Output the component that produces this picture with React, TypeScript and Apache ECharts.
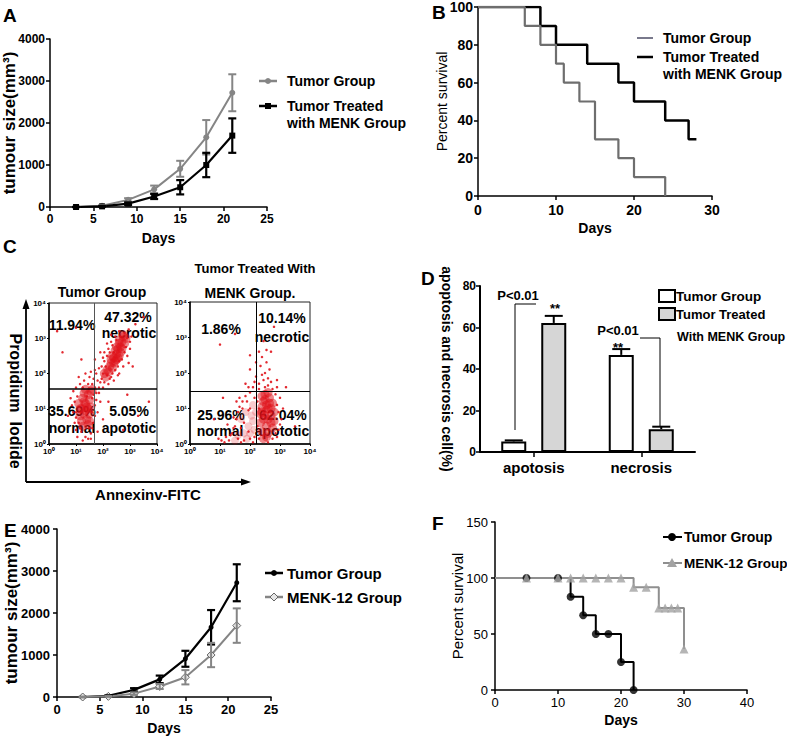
import React, { useEffect, useRef } from 'react';
import * as echarts from 'echarts';

const FONT = '"Liberation Sans", Arial, Helvetica, sans-serif';

// ---------- Panel A / E : tumour growth ----------
const growthDays = [3, 6, 9, 12, 15, 18, 21];
const tumorMean = [0, 30, 170, 420, 910, 1660, 2720];
const tumorSd = [0, 10, 40, 90, 190, 410, 440];
const treatedMean = [0, 15, 80, 250, 470, 1000, 1700];
const treatedSd = [0, 8, 30, 60, 170, 290, 410];

// ---------- Panel B : survival ----------
const survBTumor = [[0, 100], [6, 90], [8, 80], [10, 70], [11, 60], [13, 50], [15, 30], [18, 20], [20, 10], [24, 0]];
const survBTreated = [[0, 100], [8, 90], [10, 80], [14, 70], [18, 60], [20, 50], [24, 40], [27, 30], [28, 30]];

// ---------- Panel C : flow cytometry (log10 decades) ----------
const logTicks = ['10\u2070', '10\u00b9', '10\u00b2', '10\u00b3', '10\u2074'];
const gateLeft = [1.67, 1.56];
const gateRight = [2.2, 1.49];
const leftCore = [
  [2.30, 2.30], [2.40, 2.45], [2.50, 2.55], [2.55, 2.70], [2.65, 2.75], [2.70, 2.90], [2.45, 2.65], [2.60, 2.50],
  [2.35, 2.15], [2.20, 2.05], [2.75, 3.05], [2.50, 2.40], [2.60, 2.85], [2.40, 2.30], [2.10, 1.90],
  [2.25, 2.20], [2.45, 2.35], [2.55, 2.45], [2.65, 2.60], [2.50, 2.75], [2.70, 2.70], [2.80, 2.85], [2.60, 2.95],
  [2.35, 2.50], [2.15, 2.10], [2.05, 2.00], [2.30, 2.40], [2.75, 3.10], [2.85, 3.00],
  [1.20, 1.00], [1.30, 0.85], [1.35, 1.15], [1.25, 1.30], [1.45, 1.00], [1.40, 0.70], [1.15, 0.80], [1.50, 1.25],
  [1.30, 1.45], [1.55, 1.50], [1.45, 0.55], [1.10, 1.15], [1.20, 0.65], [1.30, 1.20], [1.40, 1.05], [1.50, 0.85],
  [1.35, 0.95], [1.25, 0.50], [1.55, 1.05], [1.45, 1.40], [1.60, 1.55], [1.35, 1.55], [1.15, 1.00], [1.50, 0.65]
];
const leftDots = [
  [1.0, 0.4], [0.9, 0.9], [0.8, 1.3], [1.0, 1.6], [1.1, 1.9], [1.3, 1.8], [1.5, 1.9], [1.6, 1.7], [1.7, 1.6], [1.8, 1.8],
  [1.9, 1.75], [1.75, 2.0], [1.95, 2.2], [2.0, 2.0], [2.05, 2.35], [2.15, 2.5], [2.25, 2.6], [2.1, 2.2], [1.85, 1.45],
  [2.0, 1.6], [2.2, 1.7], [2.3, 1.9], [2.45, 2.1], [2.55, 2.2], [2.7, 2.4], [2.8, 2.6], [2.85, 2.75], [2.9, 3.0],
  [2.8, 3.15], [2.65, 3.05], [2.5, 2.95], [2.35, 2.8], [2.2, 2.7], [2.95, 3.25], [3.0, 2.9], [2.3, 3.1], [1.6, 1.3],
  [1.7, 1.1], [1.8, 0.9], [1.65, 0.6], [1.9, 1.2], [2.0, 0.7], [1.55, 0.3], [1.35, 0.2], [1.2, 0.35], [0.95, 0.6],
  [0.85, 1.1], [1.05, 1.35], [1.45, 1.7], [1.25, 1.6], [0.7, 0.8], [1.1, 0.6], [1.6, 0.9], [1.4, 1.35], [1.5, 0.45],
  [2.4, 1.8], [2.6, 2.0], [3.1, 2.2], [2.9, 1.4], [2.2, 1.2], [3.3, 0.8], [0.5, 2.6], [1.2, 2.4], [3.5, 3.6], [0.3, 3.2],
  [3.7, 1.2], [2.75, 0.4], [1.0, 3.3], [3.2, 3.4], [1.7, 2.4], [1.9, 2.6], [2.15, 2.85],
  [1.75, 1.45], [1.85, 1.6], [1.95, 1.85], [2.05, 1.75], [2.15, 1.95], [2.25, 1.85], [2.35, 2.0], [1.65, 1.85],
  [1.55, 2.05], [1.85, 2.15], [2.0, 2.45], [2.3, 2.9], [2.45, 3.05], [2.6, 3.2], [2.9, 2.5], [3.0, 2.7], [3.05, 3.05],
  [2.95, 2.3], [2.75, 2.2], [2.55, 1.95], [1.0, 0.9], [0.95, 1.2], [1.05, 0.2], [1.25, 0.1], [1.45, 0.15], [1.6, 0.45],
  [1.7, 0.8], [1.75, 1.25], [1.65, 1.4], [0.9, 1.5], [1.15, 1.7], [1.35, 2.0], [1.55, 0.15], [1.8, 0.35], [1.0, 0.75],
  [1.15, 0.45], [1.7, 2.1], [2.05, 2.6], [2.4, 2.6], [2.6, 2.35]
];
const rightCore = [
  [2.50, 0.80], [2.60, 1.00], [2.45, 1.20], [2.70, 0.60], [2.55, 0.50], [2.40, 0.90], [2.65, 1.30], [2.80, 0.90],
  [2.35, 0.60], [2.50, 1.40], [2.60, 0.30], [2.75, 1.15], [2.40, 0.35], [2.55, 1.10], [2.70, 0.80],
  [2.45, 0.70], [2.55, 0.95], [2.65, 1.15], [2.50, 1.25], [2.60, 0.70], [2.75, 0.45], [2.40, 1.05], [2.70, 1.00],
  [2.55, 0.20], [2.45, 0.15], [2.80, 0.65], [2.35, 0.85], [2.60, 1.45], [2.40, 1.35]
];
const rightMid = [
  [2.05, 0.80], [1.95, 0.50], [2.10, 1.10], [1.80, 0.30], [2.15, 0.40], [1.70, 0.70], [1.85, 0.90], [2.00, 0.30],
  [2.10, 0.65], [1.60, 0.25], [1.90, 0.15], [2.20, 0.90], [1.50, 0.10]
];
const rightDots = [
  [2.3, 1.7], [2.45, 1.8], [2.6, 1.65], [2.75, 1.55], [2.5, 2.0], [2.35, 2.2], [2.65, 2.1], [2.2, 1.9], [2.1, 1.6],
  [2.0, 1.45], [1.9, 1.2], [1.75, 1.0], [1.6, 0.9], [1.5, 0.5], [1.4, 0.3], [1.3, 0.1], [1.6, 0.15], [1.8, 0.1],
  [2.0, 0.15], [1.2, 0.2], [1.05, 0.1], [1.55, 1.2], [1.85, 1.7], [2.0, 2.1], [2.4, 2.45], [2.55, 2.3], [2.9, 1.8],
  [3.0, 1.3], [3.05, 0.7], [2.95, 0.4], [3.1, 1.0], [2.85, 1.4], [2.3, 1.0], [2.25, 0.5], [2.9, 0.2], [2.3, 0.15],
  [1.95, 0.95], [1.7, 0.45], [2.15, 1.3], [1.45, 0.75], [3.2, 1.6], [2.7, 2.6], [3.3, 2.9], [2.8, 3.3], [1.0, 2.8],
  [1.5, 3.1], [3.5, 0.5], [0.8, 0.7], [1.1, 1.3], [2.45, 2.9], [2.0, 2.5], [1.25, 0.55], [1.65, 1.3], [2.6, 0.05],
  [2.75, 0.15], [2.3, 1.55], [2.5, 1.6], [2.7, 1.75], [2.4, 1.95], [2.6, 1.85], [2.2, 2.3], [2.3, 2.6], [2.55, 2.65],
  [2.15, 1.75], [1.95, 1.6], [1.85, 1.35], [1.75, 1.2], [1.65, 1.05], [1.55, 0.7], [1.45, 0.45], [1.35, 0.25],
  [1.15, 0.05], [0.95, 0.15], [1.7, 0.05], [2.1, 0.05], [2.9, 1.1], [2.95, 0.9], [3.0, 0.55], [2.85, 0.3], [2.9, 1.6],
  [2.0, 1.0], [1.8, 0.6], [2.15, 0.2], [2.25, 1.2], [1.95, 0.35]
];

// ---------- Panel D : apoptosis / necrosis ----------
const dCategories = ['apotosis', 'necrosis'];
const dTumor = [5.1, 46.8];
const dTumorErr = [0.5, 2.8];
const dTreated = [62.2, 11.0];
const dTreatedErr = [3.4, 1.2];

// ---------- Panel F : survival ----------
const survFTumorLine = [[0, 100], [12, 83.3], [14, 66.7], [16, 50], [20, 25], [22, 0]];
const survFTumorMarks = [[5, 100], [10, 100], [12, 83.3], [14, 66.7], [16, 50], [18, 50], [20, 25], [22, 0]];
const survFMenkLine = [[0, 100], [22, 91.7], [26, 73.3], [30, 36.7]];
const survFMenkMarks = [[5, 100], [10, 100], [12, 100], [14, 100], [16, 100], [18, 100], [20, 100], [22, 91.7],
  [24, 91.7], [26, 73.3], [27, 73.3], [28, 73.3], [29, 73.3], [30, 36.7]];

const GRAY = '#858585';
const RED = '#e0121a';

function valAxis(gridIndex: number, min: number, max: number, interval: number, extra: any = {}) {
  const { label = {}, ...rest } = extra;
  return {
    type: 'value', gridIndex, min, max, interval,
    nameMoveOverlap: false,
    axisLine: { show: true, onZero: false, lineStyle: { color: '#000', width: 1.5 } },
    axisTick: { show: true, length: 4, lineStyle: { color: '#000', width: 1.5 } },
    splitLine: { show: false },
    axisLabel: {
      color: '#000', fontFamily: FONT, fontWeight: 'bold', fontSize: 12, margin: 5,
      formatter: (v: number) => String(v), ...label,
    },
    nameTextStyle: { color: '#000', fontFamily: FONT, fontWeight: 'bold', fontSize: 14 },
    ...rest,
  };
}

function errorSeries(xi: number, days: number[], mean: number[], sd: number[], color: string, width: number) {
  return {
    type: 'custom', xAxisIndex: xi, yAxisIndex: xi, silent: true, z: 4,
    data: days.map((d, i) => [d, mean[i] - sd[i], mean[i] + sd[i]]),
    encode: { x: 0, y: [1, 2] },
    renderItem: (_p: any, api: any) => {
      const x = api.value(0);
      const lo = api.coord([x, api.value(1)]);
      const hi = api.coord([x, api.value(2)]);
      const w = 4;
      const st = { stroke: color, lineWidth: width };
      return {
        type: 'group', children: [
          { type: 'line', shape: { x1: lo[0], y1: lo[1], x2: hi[0], y2: hi[1] }, style: st },
          { type: 'line', shape: { x1: hi[0] - w, y1: hi[1], x2: hi[0] + w, y2: hi[1] }, style: st },
          { type: 'line', shape: { x1: lo[0] - w, y1: lo[1], x2: lo[0] + w, y2: lo[1] }, style: st },
        ],
      };
    },
  };
}

function barErrorSeries(vals: number[], errs: number[], offset: number) {
  return {
    type: 'custom', xAxisIndex: 4, yAxisIndex: 4, silent: true, z: 1,
    data: vals.map((v, i) => [i, v, v + errs[i]]),
    encode: { x: 0, y: [1, 2] },
    renderItem: (_p: any, api: any) => {
      const b = api.coord([api.value(0), api.value(1)]);
      const t = api.coord([api.value(0), api.value(2)]);
      const cx = b[0] + offset;
      const st = { stroke: '#000', lineWidth: 2 };
      return {
        type: 'group', children: [
          { type: 'line', shape: { x1: cx, y1: b[1], x2: cx, y2: t[1] }, style: st },
          { type: 'line', shape: { x1: cx - 9, y1: t[1], x2: cx + 9, y2: t[1] }, style: st },
        ],
      };
    },
  };
}

function txt(x: number, y: number, text: string, size: number, extra: any = {}) {
  const { weight = 'bold', align = 'left', rotation = 0, fill = '#000' } = extra;
  return {
    type: 'text', x, y, rotation,
    style: { text, fill, font: `${weight} ${size}px ${FONT}`, align, verticalAlign: 'middle' },
  };
}
function seg(x1: number, y1: number, x2: number, y2: number, stroke: string, lineWidth: number) {
  return { type: 'line', shape: { x1, y1, x2, y2 }, style: { stroke, lineWidth } };
}

export default function App() {
  const ref = useRef<HTMLDivElement>(null);
  useEffect(() => {
    if (!ref.current) return;
    const chart = echarts.init(ref.current, null, { renderer: 'svg' });
    const logLabel = { fontSize: 8, margin: 3, formatter: (v: number) => logTicks[Math.round(v)] };
    const logTick = { show: true, length: 2, lineStyle: { color: '#000' } };
    const bigName = { color: '#000', fontFamily: FONT, fontWeight: 'bold', fontSize: 17 };
    const option: any = {
      animation: false,
      backgroundColor: '#fff',
      textStyle: { fontFamily: FONT },
      grid: [
        { left: 50, top: 39, width: 217, height: 168 },
        { left: 478, top: 7, width: 234, height: 189 },
        { left: 49, top: 303, width: 108, height: 141, show: true, borderColor: '#222', borderWidth: 1 },
        { left: 190, top: 302, width: 120, height: 142, show: true, borderColor: '#222', borderWidth: 1 },
        { left: 480, top: 286, width: 215, height: 166 },
        { left: 57, top: 529, width: 214, height: 168 },
        { left: 495, top: 522, width: 252, height: 168 },
      ],
      xAxis: [
        valAxis(0, 0, 25, 5, { name: 'Days', nameLocation: 'middle', nameGap: 24, label: { margin: 6 } }),
        valAxis(1, 0, 30, 10, { name: 'Days', nameLocation: 'middle', nameGap: 25, label: { fontSize: 14, margin: 7 } }),
        valAxis(2, 0, 4, 1, { label: logLabel, axisTick: logTick }),
        valAxis(3, 0, 4, 1, { label: logLabel, axisTick: logTick }),
        {
          type: 'category', gridIndex: 4, data: dCategories,
          axisLine: { show: true, lineStyle: { color: '#000', width: 2 } },
          axisTick: { show: true, alignWithLabel: true, length: 5, lineStyle: { color: '#000', width: 1.5 } },
          axisLabel: { color: '#000', fontFamily: FONT, fontWeight: 'bold', fontSize: 15, margin: 8 },
        },
        valAxis(5, 0, 25, 5, { name: 'Days', nameLocation: 'middle', nameGap: 24, label: { fontSize: 13, margin: 6 } }),
        valAxis(6, 0, 40, 10, { name: 'Days', nameLocation: 'middle', nameGap: 23, label: { fontSize: 13, fontWeight: 'normal', margin: 6 } }),
      ],
      yAxis: [
        valAxis(0, 0, 4000, 1000, { name: 'tumour size(mm\u00b3)', nameLocation: 'middle', nameGap: 32, nameTextStyle: bigName }),
        valAxis(1, 0, 100, 20, {
          name: 'Percent survival', nameLocation: 'middle', nameGap: 29, label: { fontSize: 14 },
          nameTextStyle: { color: '#000', fontFamily: FONT, fontWeight: 'normal', fontSize: 14 },
        }),
        valAxis(2, 0, 4, 1, { label: logLabel, axisTick: logTick }),
        valAxis(3, 0, 4, 1, { label: logLabel, axisTick: logTick }),
        valAxis(4, 0, 80, 20, {
          name: 'apoptosis and necrosis cell(%)', nameLocation: 'middle', nameGap: 26, nameRotate: -90,
          axisLine: { show: true, onZero: false, lineStyle: { color: '#000', width: 2 } }, label: { margin: 4 },
        }),
        valAxis(5, 0, 4000, 1000, {
          name: 'tumour size(mm\u00b3)', nameLocation: 'middle', nameGap: 37, nameTextStyle: bigName,
          label: { fontSize: 13, margin: 7 },
        }),
        valAxis(6, 0, 150, 50, {
          name: 'Percent survival', nameLocation: 'middle', nameGap: 30, label: { fontSize: 13, fontWeight: 'normal', margin: 7 },
          nameTextStyle: { color: '#000', fontFamily: FONT, fontWeight: 'normal', fontSize: 15 },
        }),
      ],
      series: [
        // A
        {
          name: 'Tumor Group', type: 'line', xAxisIndex: 0, yAxisIndex: 0, z: 3,
          data: growthDays.map((d, i) => [d, tumorMean[i]]),
          symbol: 'circle', symbolSize: 6, lineStyle: { color: GRAY, width: 2 }, itemStyle: { color: GRAY },
        },
        {
          name: 'Tumor Treated with MENK Group', type: 'line', xAxisIndex: 0, yAxisIndex: 0, z: 3,
          data: growthDays.map((d, i) => [d, treatedMean[i]]),
          symbol: 'rect', symbolSize: 6, lineStyle: { color: '#000', width: 2.2 }, itemStyle: { color: '#000' },
        },
        errorSeries(0, growthDays, tumorMean, tumorSd, GRAY, 2),
        errorSeries(0, growthDays, treatedMean, treatedSd, '#000', 2.2),
        // B
        {
          name: 'Tumor Group', type: 'line', step: 'end', xAxisIndex: 1, yAxisIndex: 1, showSymbol: false, z: 3,
          data: survBTumor, lineStyle: { color: '#6e6e6e', width: 2.2 },
        },
        {
          name: 'Tumor Treated with MENK Group', type: 'line', step: 'end', xAxisIndex: 1, yAxisIndex: 1, showSymbol: false, z: 2,
          data: survBTreated, lineStyle: { color: '#000', width: 2.5 },
        },
        // C left
        {
          type: 'scatter', xAxisIndex: 2, yAxisIndex: 2, data: leftCore, symbolSize: 9, silent: true,
          itemStyle: { color: RED, opacity: 0.5 },
        },
        {
          type: 'scatter', xAxisIndex: 2, yAxisIndex: 2, data: leftDots, symbolSize: 2.5, silent: true,
          itemStyle: { color: RED, opacity: 0.9 },
          markLine: {
            silent: true, symbol: 'none', label: { show: false },
            lineStyle: { color: '#000', width: 1.5, type: 'solid' },
            data: [{ xAxis: gateLeft[0], lineStyle: { color: '#555', width: 1 } }, { yAxis: gateLeft[1] }],
          },
        },
        // C right
        {
          type: 'scatter', xAxisIndex: 3, yAxisIndex: 3, data: rightCore, symbolSize: 9, silent: true,
          itemStyle: { color: RED, opacity: 0.5 },
        },
        {
          type: 'scatter', xAxisIndex: 3, yAxisIndex: 3, data: rightMid, symbolSize: 8, silent: true,
          itemStyle: { color: RED, opacity: 0.22 },
        },
        {
          type: 'scatter', xAxisIndex: 3, yAxisIndex: 3, data: rightDots, symbolSize: 2.5, silent: true,
          itemStyle: { color: RED, opacity: 0.9 },
          markLine: {
            silent: true, symbol: 'none', label: { show: false },
            lineStyle: { color: '#000', width: 1, type: 'solid' },
            data: [{ xAxis: gateRight[0] }, { yAxis: gateRight[1] }],
          },
        },
        // D
        {
          name: 'Tumor Group', type: 'bar', xAxisIndex: 4, yAxisIndex: 4, data: dTumor, barWidth: 25, barGap: '60%', z: 2,
          itemStyle: { color: '#fff', borderColor: '#000', borderWidth: 2 },
        },
        {
          name: 'Tumor Treated With MENK Group', type: 'bar', xAxisIndex: 4, yAxisIndex: 4, data: dTreated, barWidth: 25, z: 2,
          itemStyle: { color: '#d6d6d6', borderColor: '#000', borderWidth: 2 },
        },
        barErrorSeries(dTumor, dTumorErr, -20),
        barErrorSeries(dTreated, dTreatedErr, 20),
        // E
        {
          name: 'Tumor Group', type: 'line', xAxisIndex: 5, yAxisIndex: 5, z: 3,
          data: growthDays.map((d, i) => [d, tumorMean[i]]),
          symbol: 'circle', symbolSize: 5, lineStyle: { color: '#000', width: 2.2 }, itemStyle: { color: '#000' },
        },
        {
          name: 'MENK-12 Group', type: 'line', xAxisIndex: 5, yAxisIndex: 5, z: 3,
          data: growthDays.map((d, i) => [d, treatedMean[i]]),
          symbol: 'diamond', symbolSize: 8, lineStyle: { color: GRAY, width: 2 },
          itemStyle: { color: '#e6e6e6', borderColor: '#666', borderWidth: 1 },
        },
        errorSeries(5, growthDays, tumorMean, tumorSd, '#000', 2.2),
        errorSeries(5, growthDays, treatedMean, treatedSd, GRAY, 2),
        // F
        {
          name: 'Tumor Group', type: 'line', step: 'end', xAxisIndex: 6, yAxisIndex: 6, showSymbol: false, z: 2,
          data: survFTumorLine, lineStyle: { color: '#000', width: 2 },
        },
        {
          name: 'MENK-12 Group', type: 'line', step: 'end', xAxisIndex: 6, yAxisIndex: 6, showSymbol: false, z: 3,
          data: survFMenkLine, lineStyle: { color: '#8f8f8f', width: 2 },
        },
        {
          type: 'scatter', xAxisIndex: 6, yAxisIndex: 6, data: survFTumorMarks, symbol: 'circle', symbolSize: 8, z: 4,
          itemStyle: { color: '#000' },
        },
        {
          type: 'scatter', xAxisIndex: 6, yAxisIndex: 6, data: survFMenkMarks, symbol: 'triangle', symbolSize: 9, z: 5,
          itemStyle: { color: '#a3a3a3' },
        },
      ],
      graphic: [
        // panel letters
        txt(3, 15, 'A', 19), txt(432, 12, 'B', 19), txt(3, 246, 'C', 19),
        txt(421, 278, 'D', 19), txt(4, 530, 'E', 19), txt(432, 523, 'F', 19),
        // A legend
        seg(259, 81, 277, 81, GRAY, 2.5),
        { type: 'circle', shape: { cx: 268, cy: 81, r: 3 }, style: { fill: GRAY } },
        txt(287, 81, 'Tumor Group', 14),
        seg(259, 106, 277, 106, '#000', 2.5),
        { type: 'rect', shape: { x: 265, y: 103, width: 6, height: 6 }, style: { fill: '#000' } },
        txt(287, 106, 'Tumor Treated', 14),
        txt(287, 123, 'with MENK Group', 14),
        // B legend
        seg(637, 38, 653, 38, '#4d4d66', 1.5),
        txt(663, 38, 'Tumor Group', 14),
        seg(637, 57, 653, 57, '#000', 2.5),
        txt(663, 57, 'Tumor Treated', 14),
        txt(663, 74, 'with MENK Group', 14),
        // C titles & labels
        txt(102, 292, 'Tumor Group', 14, { align: 'center' }),
        txt(255, 268, 'Tumor Treated With', 13, { align: 'center' }),
        txt(250, 293, 'MENK Group.', 14, { align: 'center' }),
        txt(72, 325, '11.94%', 14, { align: 'center' }),
        txt(128, 317, '47.32%', 14, { align: 'center' }),
        txt(129, 333, 'necrotic', 14, { align: 'center' }),
        txt(72, 411, '35.69%', 14, { align: 'center' }),
        txt(72, 428, 'normal', 14, { align: 'center' }),
        txt(129, 411, '5.05%', 14, { align: 'center' }),
        txt(129, 428, 'apototic', 14, { align: 'center' }),
        txt(221, 329, '1.86%', 14, { align: 'center' }),
        txt(282, 318, '10.14%', 14, { align: 'center' }),
        txt(282, 337, 'necrotic', 14, { align: 'center' }),
        txt(221, 415, '25.96%', 14, { align: 'center' }),
        txt(220, 431, 'normal', 14, { align: 'center' }),
        txt(283, 415, '62.04%', 14, { align: 'center' }),
        txt(282, 431, 'apototic', 14, { align: 'center' }),
        seg(26, 482, 26, 307, '#000', 1.8),
        { type: 'polygon', shape: { points: [[22.5, 309], [29.5, 309], [26, 299]] }, style: { fill: '#000' } },
        seg(26, 482, 243, 482, '#000', 1.8),
        { type: 'polygon', shape: { points: [[241, 478.5], [241, 485.5], [251, 482]] }, style: { fill: '#000' } },
        txt(15, 401, 'Propidium  Iodide', 16, { align: 'center', rotation: -Math.PI / 2 }),
        txt(148, 494, 'Annexinv-FITC', 15, { align: 'center' }),
        // D annotations
        { type: 'polyline', shape: { points: [[515, 430], [515, 304], [536, 304]] }, style: { stroke: '#000', lineWidth: 1, fill: null } },
        txt(518, 295, 'P<0.01', 13, { align: 'center' }),
        txt(555, 308, '**', 13, { align: 'center' }),
        { type: 'polyline', shape: { points: [[640, 338], [660, 338], [660, 427]] }, style: { stroke: '#000', lineWidth: 1, fill: null } },
        txt(618, 330, 'P<0.01', 13, { align: 'center' }),
        txt(618, 347, '**', 13, { align: 'center' }),
        { type: 'rect', shape: { x: 659, y: 290, width: 16, height: 12 }, style: { fill: '#fff', stroke: '#000', lineWidth: 2 } },
        txt(676, 296, 'Tumor Group', 13.5),
        { type: 'rect', shape: { x: 659, y: 308, width: 16, height: 12 }, style: { fill: '#d6d6d6', stroke: '#000', lineWidth: 2 } },
        txt(676, 314, 'Tumor Treated', 13),
        txt(677, 337, 'With MENK Group', 12.5),
        // E legend
        seg(265, 573, 283, 573, '#000', 2.5),
        { type: 'circle', shape: { cx: 274, cy: 573, r: 3 }, style: { fill: '#000' } },
        txt(287, 573, 'Tumor Group', 15),
        seg(265, 597, 283, 597, GRAY, 2.5),
        { type: 'polygon', shape: { points: [[274, 593], [278, 597], [274, 601], [270, 597]] }, style: { fill: '#e6e6e6', stroke: '#666', lineWidth: 1 } },
        txt(287, 597, 'MENK-12 Group', 15),
        // F legend
        seg(663, 537, 682, 537, '#000', 2),
        { type: 'circle', shape: { cx: 672, cy: 537, r: 4 }, style: { fill: '#000' } },
        txt(684, 537, 'Tumor Group', 14),
        seg(663, 563, 682, 563, '#8f8f8f', 2),
        { type: 'polygon', shape: { points: [[672, 558], [677, 567], [667, 567]] }, style: { fill: '#a3a3a3' } },
        txt(684, 563, 'MENK-12 Group', 13.5),
      ],
    };
    chart.setOption(option);
    return () => chart.dispose();
  }, []);
  return (
    <div
      ref={ref}
      style={{ position: 'absolute', left: 0, top: 0, width: 787, height: 736, background: '#fff' }}
    />
  );
}
